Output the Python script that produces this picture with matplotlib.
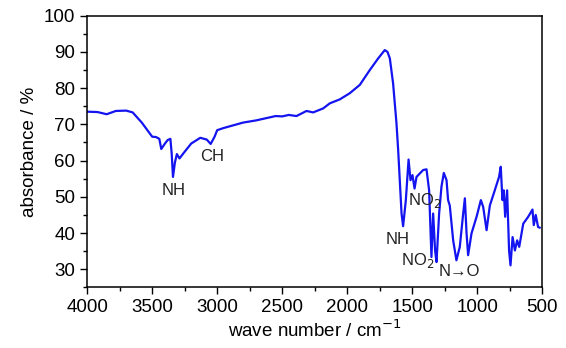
import numpy as np
import matplotlib
matplotlib.use('Agg')
import matplotlib.pyplot as plt
from matplotlib.ticker import MultipleLocator

plt.rcParams['font.family'] = ['Liberation Sans', 'DejaVu Sans']

# spectrum (wave number / cm-1, absorbance / %)
wavenumber = [4000, 3920, 3850, 3780, 3700, 3650, 3580, 3500, 3470, 3445, 3430,
              3400, 3380, 3360, 3350, 3340, 3325, 3310, 3290, 3260, 3200, 3130,
              3080, 3050, 3020, 3000, 2950, 2900, 2800, 2700, 2600, 2550, 2500,
              2450, 2390, 2313, 2262, 2185, 2134, 2057, 1980, 1903, 1826, 1762,
              1711, 1690, 1672, 1647, 1621, 1608, 1582, 1570, 1549, 1528, 1513,
              1498, 1482, 1467, 1416, 1390, 1370, 1352, 1339, 1324, 1313, 1293,
              1275, 1257, 1236, 1224, 1211, 1185, 1160, 1134, 1108, 1095, 1082,
              1070, 1044, 1005, 972, 954, 928, 903, 865, 832, 819, 806, 796, 785,
              770, 755, 744, 728, 710, 693, 677, 646, 608, 575, 565, 550, 532, 520]
absorbance = [73.5, 73.4, 72.8, 73.7, 73.8, 73.3, 70.5, 66.6, 66.5, 66.0, 63.2,
              64.8, 65.7, 66.0, 62.0, 55.5, 59.5, 61.8, 60.6, 62.0, 64.7, 66.3,
              65.8, 64.6, 66.6, 68.4, 69.0, 69.5, 70.5, 71.1, 71.9, 72.3, 72.2,
              72.6, 72.3, 73.7, 73.3, 74.4, 75.8, 76.9, 78.6, 80.9, 85.0, 88.2,
              90.5, 90.0, 88.2, 81.3, 70.3, 62.9, 45.4, 41.9, 49.1, 60.3, 54.6,
              56.0, 52.3, 55.5, 57.4, 57.6, 51.8, 33.4, 45.4, 35.2, 32.0, 45.4,
              52.8, 56.6, 54.6, 49.1, 47.6, 38.0, 32.5, 36.2, 45.4, 49.6, 39.9,
              33.9, 39.9, 44.5, 49.1, 47.2, 40.8, 47.6, 51.8, 55.5, 58.3, 49.1,
              51.8, 44.5, 51.8, 35.2, 31.1, 38.9, 35.2, 38.0, 36.2, 42.6, 44.5,
              46.5, 42.2, 45.0, 41.7, 41.5]

# peak labels: text, x, y
labels = ['NH', 'CH', 'NH', 'NO$_2$', 'NO$_2$', 'N\u2192O']
label_x = [3333, 3036, 1616, 1405, 1460, 1134]
label_y = [51.8, 61.2, 38.2, 49.1, 32.5, 29.3]

fig = plt.figure(figsize=(5.66, 3.48), dpi=100)
ax = fig.add_axes([0.154, 0.174, 0.804, 0.781])

ax.plot(wavenumber, absorbance, color='#1414f0', linewidth=1.6)

for txt, x, y in zip(labels, label_x, label_y):
    ax.text(x, y, txt, fontsize=12, ha='center', va='center', color='#222222')

ax.set_xlim(4000, 500)
ax.set_ylim(25, 100)
ax.xaxis.set_major_locator(MultipleLocator(500))
ax.xaxis.set_minor_locator(MultipleLocator(250))
ax.yaxis.set_major_locator(MultipleLocator(10))
ax.yaxis.set_minor_locator(MultipleLocator(5))
ax.set_yticks([30, 40, 50, 60, 70, 80, 90, 100])
ax.tick_params(which='major', direction='out', length=5, width=1, labelsize=13.5,
               top=False, right=False)
ax.tick_params(which='minor', direction='out', length=3, width=1,
               top=False, right=False)
for s in ax.spines.values():
    s.set_linewidth(1.1)

ax.set_xlabel('wave number / cm$^{-1}$', fontsize=13.5, labelpad=2)
ax.set_ylabel('absorbance / %', fontsize=13.5, labelpad=4)

fig.savefig('out.png', dpi=100)
